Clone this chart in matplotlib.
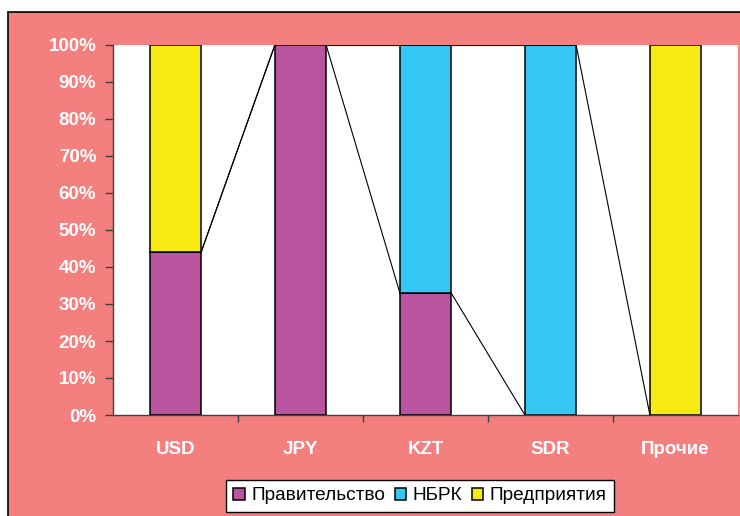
import numpy as np
import matplotlib.pyplot as plt
from matplotlib.patches import Rectangle

plt.rcParams['font.family'] = ['Liberation Sans', 'DejaVu Sans']

categories = ['USD', 'JPY', 'KZT', 'SDR', 'Прочие']
series_names = ['Правительство', 'НБРК', 'Предприятия']
pravitelstvo = [44, 100, 33, 0, 0]
nbrk = [0, 0, 67, 100, 0]
predpriyatiya = [56, 0, 0, 0, 100]
colors = ['#B9559F', '#35C7F3', '#F5EB12']
bg_pink = '#F47F7F'

fig = plt.figure(figsize=(7.4, 5.16), dpi=100)
fig.patch.set_facecolor('white')

# chart area frame (runs off the right/bottom edge like the original)
W, H = 740, 516
fig.patches.append(Rectangle((8 / W, -0.05), 1.1, 1.05 - 12 / H, transform=fig.transFigure,
                             facecolor=bg_pink, edgecolor='black', linewidth=1.2, zorder=-5))

ax = fig.add_axes([113 / W, 1 - 415 / H, 625 / W, 370 / H])
ax.set_facecolor('white')

x = np.arange(len(categories))
width = 0.41
data = [pravitelstvo, nbrk, predpriyatiya]
bottom = np.zeros(len(categories))
for name, vals, c in zip(series_names, data, colors):
    ax.bar(x, vals, width, bottom=bottom, color=c, edgecolor='black', linewidth=1.1,
           label=name, zorder=3)
    bottom = bottom + np.array(vals)

# series lines between stacked bars
cum = np.cumsum(np.array(data), axis=0)
for row in cum[:-1]:
    for i in range(len(categories) - 1):
        ax.plot([x[i] + width / 2, x[i + 1] - width / 2], [row[i], row[i + 1]],
                color='black', linewidth=0.8, zorder=2)

ax.set_xlim(-0.5, len(categories) - 0.5)
ax.set_ylim(0, 100)
ax.set_yticks(np.arange(0, 101, 10))
ax.set_yticklabels([f'{v}%' for v in range(0, 101, 10)])
ax.set_xticks(x)
ax.set_xticklabels(categories)
ax.set_xticks(np.arange(0.5, len(categories) - 0.5, 1), minor=True)

for s in ['top', 'right']:
    ax.spines[s].set_visible(False)
for s in ['left', 'bottom']:
    ax.spines[s].set_color('#404040')
    ax.spines[s].set_linewidth(1.0)

ax.tick_params(axis='y', direction='out', length=6, width=1, color='#404040',
               pad=6, labelsize=13.5, labelcolor='white')
ax.tick_params(axis='x', which='major', length=0, pad=19, labelsize=13.5, labelcolor='white')
ax.tick_params(axis='x', which='minor', direction='out', length=5, width=1, color='#404040')
for lab in ax.get_xticklabels() + ax.get_yticklabels():
    lab.set_fontweight('bold')

leg = fig.legend(loc='center', bbox_to_anchor=(420 / W, 1 - 496 / H), ncol=3,
                 fontsize=13.7, frameon=True, fancybox=False, shadow=False, framealpha=1,
                 handlelength=0.6, handleheight=0.6, handletextpad=0.35,
                 columnspacing=0.5, borderpad=0.4, borderaxespad=0)
leg.get_frame().set_edgecolor('black')
leg.get_frame().set_linewidth(1.0)
leg.get_frame().set_facecolor('white')

fig.savefig('out.png', dpi=100)
